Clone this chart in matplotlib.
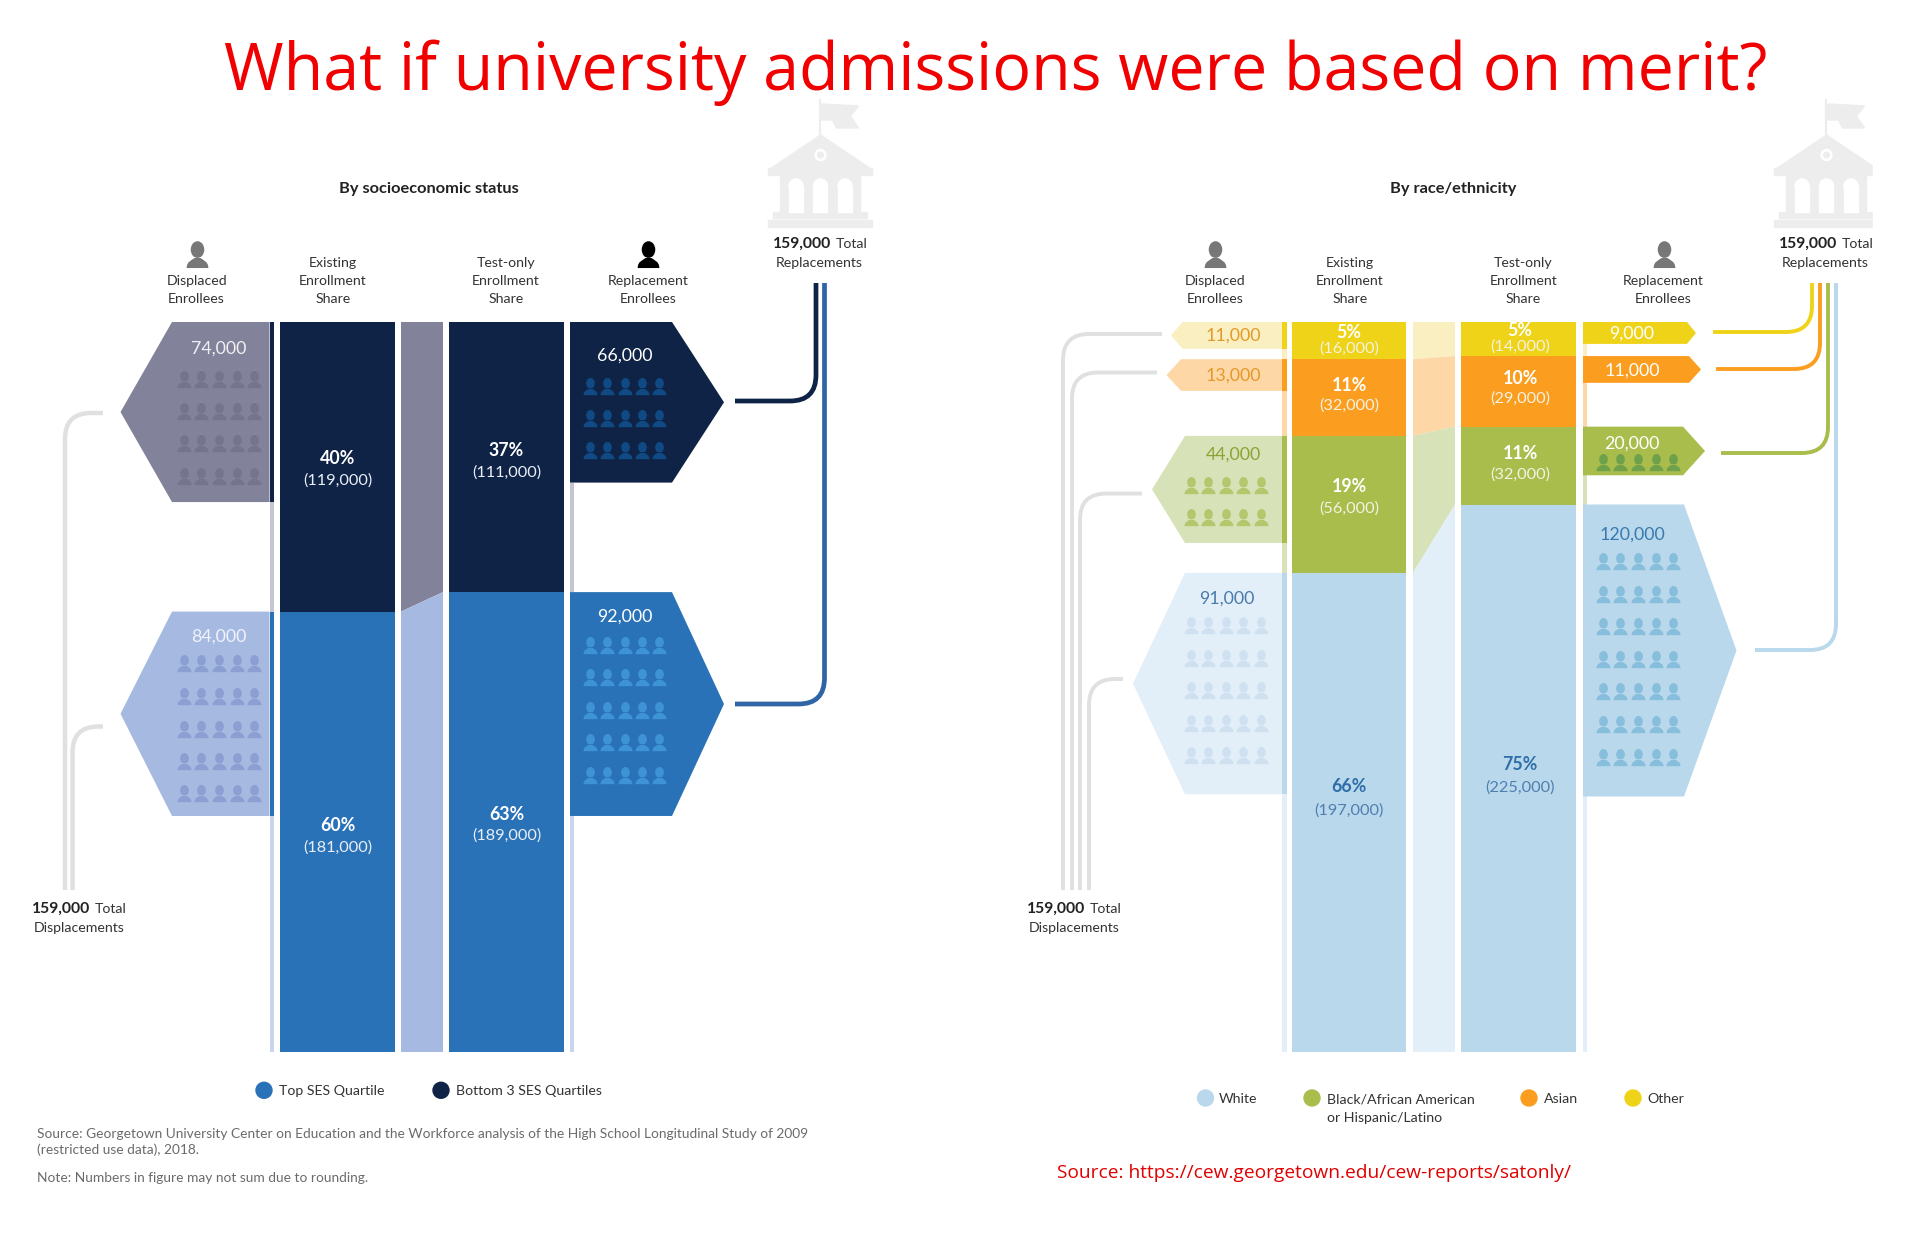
import numpy as np
import matplotlib
matplotlib.use("Agg")
import matplotlib.pyplot as plt
from matplotlib.path import Path
from matplotlib.patches import PathPatch, Circle, Rectangle
from matplotlib.transforms import Affine2D

# enrollees, in thousands, top segment first
ses_existing = [119, 181]
ses_test = [111, 189]
ses_displaced = [74, 84]
ses_replacement = [66, 92]
ses_pct_existing = ["40%", "60%"]
ses_pct_test = ["37%", "63%"]

# heights as measured on the picture, the printed labels are rounded
race_existing = [15.3, 31.5, 56.3, 196.9]
race_existing_lab = [16, 32, 56, 197]
race_test = [14, 29, 32, 225]
race_displaced = [11, 13, 44, 91]
race_replacement = [9, 11, 20, 120]
race_pct_existing = ["5%", "11%", "19%", "66%"]
race_pct_test = ["5%", "10%", "11%", "75%"]

NAVY, BLUE, GRAYV, LBLUE = "#0f2346", "#2a72b8", "#82829a", "#a6b9e0"
YEL, ORA, GRN, SKY = "#efd318", "#fb9e1f", "#a8bd4c", "#b9d8ec"
LYEL, LORA, LGRN, LSKY = "#f9efc0", "#fdd7a5", "#d8e2b8", "#e3eff8"
LINE = "#e0e0e0"
W, H = 1912, 1236

plt.rcParams["font.family"] = ["Lato", "DejaVu Sans"]
fig = plt.figure(figsize=(W / 100, H / 100), dpi=100)

# page axes in pixels for the layout, on top of the value axes
ax = fig.add_axes([0, 0, 1, 1])
ax.set_xlim(0, W)
ax.set_ylim(H, 0)
ax.axis("off")
ax.set_zorder(2)

# value axes: same x, y in thousands of enrollees (300k = full column)
vy = fig.add_axes([0, 1 - 1052 / H, 1, 730 / H], sharex=ax)
vy.set_ylim(300, 0)
vy.axis("off")
vy.set_zorder(1)


def txt(x, y, s, size=10.2, color="#333333", weight="normal", ha="center", **kw):
    ax.text(x, y + 1, s, fontsize=size, color=color, fontweight=weight, ha=ha, va="center", zorder=10, **kw)


def person_path():
    head = Path.unit_circle().transformed(Affine2D().scale(0.5, 0.62).translate(0, 0.36))
    v = [(-0.8, -1), (-0.8, -0.5), (-0.42, -0.42), (-0.2, -0.25),
         (0.2, -0.25), (0.42, -0.42), (0.8, -0.5), (0.8, -1), (-0.8, -1)]
    c = [Path.MOVETO, Path.CURVE4, Path.CURVE4, Path.CURVE4, Path.LINETO,
         Path.CURVE4, Path.CURVE4, Path.CURVE4, Path.CLOSEPOLY]
    return Path.make_compound_path(head, Path(v, c))


PERSON = person_path()


def people(xs, ys, color, ms=12.5):
    gx, gy = np.meshgrid(xs, ys)
    ax.plot(gx.ravel(), gy.ravel(), ls="none", marker=PERSON, ms=ms, mfc=color, mec="none", zorder=6)


def elbow(xv, y0, yh, xe, color, lw=3.4, r=26):
    # vertical run from y0 to yh, rounded corner, then horizontal run to xe
    sx = 1 if xe > xv else -1
    sy = 1 if yh > y0 else -1
    v = [(xv, y0), (xv, yh - sy * r), (xv, yh), (xv + sx * r, yh), (xe, yh)]
    c = [Path.MOVETO, Path.LINETO, Path.CURVE3, Path.CURVE3, Path.LINETO]
    ax.add_patch(PathPatch(Path(v, c), fc="none", ec=color, lw=lw, capstyle="butt", zorder=3))


def school(cx):
    g = "#ededed"
    ax.plot([cx, cx], [100, 136], color=g, lw=1.6, zorder=2)
    ax.fill([cx + 1, cx + 38, cx + 30, cx + 38, cx + 16, cx + 12, cx + 1],
            [104, 106, 116, 128, 128, 120, 120], color=g, zorder=2)
    ax.fill([cx - 52, cx, cx + 52], [170, 135, 170], color=g, zorder=2)
    ax.add_patch(Rectangle((cx - 52, 168), 104, 7, color=g, zorder=2))
    ax.add_patch(Rectangle((cx - 40, 174), 80, 40, color=g, zorder=2))
    ax.add_patch(Rectangle((cx - 47, 212), 94, 6, color=g, zorder=2))
    ax.add_patch(Rectangle((cx - 52, 220), 104, 7, color=g, zorder=2))
    for d in (-24.5, 0, 24.5):
        ax.add_patch(Rectangle((d + cx - 7, 186), 14, 26, color="white", zorder=3))
        ax.add_patch(Circle((d + cx, 186), 7, color="white", zorder=3))
    ax.add_patch(Circle((cx, 155), 5.5, color="white", zorder=3))
    ax.add_patch(Circle((cx, 155), 2.8, color=g, zorder=3))


def hexagon(x_flat, x_shoulder, x_tip, start, size, color):
    y_tip = start + size / 2
    vy.fill([x_flat, x_shoulder, x_tip, x_shoulder, x_flat],
            [start, start, y_tip, start + size, start + size], color=color, lw=0, zorder=2)


def column(x0, x1, vals, colors):
    tops = np.concatenate(([0], np.cumsum(vals)[:-1]))
    vy.bar((x0 + x1) / 2, vals, width=x1 - x0, bottom=tops, color=colors, lw=0, zorder=2)
    return tops


def flow(x0, x1, left, right, colors):
    lc = np.concatenate(([0], np.cumsum(left)))
    rc = np.concatenate(([0], np.cumsum(right)))
    lc[-1] = rc[-1] = 300
    for i, col in enumerate(colors):
        vy.fill([x0, x1, x1, x0], [lc[i], rc[i], rc[i + 1], lc[i + 1]], color=col, lw=0, zorder=2)


# ---- left panel: socioeconomic status
cols = [NAVY, BLUE]
tops_e = column(280, 395, ses_existing, cols)
tops_t = column(449, 564, ses_test, cols)
flow(401, 443, ses_existing, ses_test, [GRAYV, LBLUE])

# thin strips next to the columns
vy.bar(271.8, [ses_displaced[0], ses_existing[0] - ses_displaced[0], ses_displaced[1], 300 - tops_e[1] - ses_displaced[1]],
       width=4.5, bottom=[0, ses_displaced[0], tops_e[1], tops_e[1] + ses_displaced[1]],
       color=[NAVY, "#c5c5d1", BLUE, "#c9d5ec"], lw=0, zorder=3)
vy.bar(572, [ses_test[0] - ses_replacement[0], 300 - tops_t[1] - ses_replacement[1]], width=4.5,
       bottom=[ses_replacement[0], tops_t[1] + ses_replacement[1]],
       color=["#c5c5d1", "#c9d5ec"], lw=0, zorder=2)

hexagon(269.5, 172, 120.5, tops_e[0], ses_displaced[0], GRAYV)
hexagon(269.5, 172, 120.5, tops_e[1], ses_displaced[1], LBLUE)
hexagon(570, 672, 724, tops_t[0], ses_replacement[0], NAVY)
hexagon(570, 672, 724, tops_t[1], ses_replacement[1], BLUE)

xs_d = [184, 201.5, 219, 237, 254]
xs_r = [590, 607, 624.6, 642, 659]
people(xs_d, [378.6, 410.7, 443, 475.7], "#74748d")
people(xs_d, [663, 696, 728.5, 761, 793], "#8b9fd2")
people(xs_r, [385.7, 418, 450], "#0f4a85")
people(xs_r, [644.7, 677, 710, 742, 775], "#3e93d7")

for xt, v, y, c in [(218.6, ses_displaced[0], 347.5, "#f0f0f4"), (218.6, ses_displaced[1], 635.6, "#f0f3fa"),
                    (624.6, ses_replacement[0], 354.6, "white"), (624.6, ses_replacement[1], 616, "white")]:
    txt(xt, y, f"{v},000", size=12.8, color=c)

for x_c, vals, pcts, ys in [(337.4, ses_existing, ses_pct_existing, [(457.5, 479.3), (824.6, 846.3)]),
                            (506.4, ses_test, ses_pct_test, [(449.6, 471.4), (813, 835)])]:
    for v, p, (y1, y2) in zip(vals, pcts, ys):
        txt(x_c, y1, p, size=12.8, color="white", weight="bold")
        txt(x_c, y2, f"({v},000)", size=11.8, color="#e8eef6")

elbow(65, 890, 413, 103, LINE, lw=3.2)
elbow(72.5, 890, 726.5, 103, LINE, lw=3.2)
elbow(816, 283, 401, 735, NAVY)
elbow(824.5, 283, 704, 735, "#2f65a6")

school(820.5)
txt(429, 188, "By socioeconomic status", size=11.8, color="#222222", weight="bold")
people([196.6], [254], "#777777", ms=19.5)
people([648], [254], "#000000", ms=19.5)
for x_c, lines in [(196.6, ["Displaced", "Enrollees"]), (648, ["Replacement", "Enrollees"]),
                   (1215, ["Displaced", "Enrollees"]), (1663.6, ["Replacement", "Enrollees"])]:
    txt(x_c, 280, lines[0])
    txt(x_c, 298, lines[1])
for x_c in (333, 1350):
    for y, s in zip((262, 280, 298), ("Existing", "Enrollment", "Share")):
        txt(x_c, y, s)
for x_c in (506, 1523.5):
    for y, s in zip((262, 280, 298), ("Test-only", "Enrollment", "Share")):
        txt(x_c, y, s)


def total(x_split, y, word, x_c=None):
    txt(x_split, y, "159,000", weight="bold", ha="right", color="#222222", size=11.3)
    txt(x_split + 5, y, "Total", ha="left")
    txt(x_c, y + 19, word)


total(831, 243, "Replacements", 819)
total(90, 908, "Displacements", 79)
total(1837, 243, "Replacements", 1825.5)
total(1085, 908, "Displacements", 1074)

ax.add_patch(Circle((264, 1090.3), 8, color=BLUE, zorder=5))
ax.add_patch(Circle((441, 1090.3), 8, color=NAVY, zorder=5))
txt(279, 1090.3, "Top SES Quartile", ha="left")
txt(455.6, 1090.3, "Bottom 3 SES Quartiles", ha="left")

txt(37.4, 1132.6, "Source: Georgetown University Center on Education and the Workforce analysis of the High School Longitudinal Study of 2009",
    ha="left", color="#6b6b6b", size=9.9)
txt(37.4, 1149, "(restricted use data), 2018.", ha="left", color="#6b6b6b", size=9.9)
txt(37.4, 1177, "Note: Numbers in figure may not sum due to rounding.", ha="left", color="#6b6b6b", size=9.9)

# ---- right panel: race/ethnicity
cols = [YEL, ORA, GRN, SKY]
light = [LYEL, LORA, LGRN, LSKY]
tops_e = column(1292, 1406, race_existing, cols)
tops_t = column(1461, 1576, race_test, cols)
flow(1413, 1455, race_existing, race_test, light)

for i in range(4):
    end_e = tops_e[i] + race_existing[i]
    end_t = tops_t[i] + race_test[i]
    vy.bar(1284.5, end_e - tops_e[i], width=4.2, bottom=tops_e[i], color=light[i], lw=0, zorder=2)
    vy.bar(1585, end_t - tops_t[i], width=4.2, bottom=tops_t[i], color=light[i], lw=0, zorder=2)

for i, (sh, tip) in enumerate([(1182.5, 1171), (1181, 1166.5), (1185, 1152), (1185, 1133)]):
    hexagon(1282.4, sh, tip, tops_e[i], race_displaced[i], light[i])
    vy.bar(1284.5, race_displaced[i], width=4.2, bottom=tops_e[i], color=cols[i], lw=0, zorder=3)
for i, (sh, tip) in enumerate([(1687, 1696), (1689, 1701), (1683, 1705), (1684, 1736.5)]):
    hexagon(1583, sh, tip, tops_t[i], race_replacement[i], cols[i])

xs_d = [1190.6, 1208.4, 1225.6, 1243.4, 1261]
xs_r = [1603, 1620.5, 1638, 1655.6, 1673]
people(xs_d, [485, 517], "#b3c76c")
people(xs_d, [625, 658, 690, 723, 755], "#cfe1f0")
people(xs_r, [462], "#6fa14a")
people(xs_r, [561, 593.6, 626.4, 658.5, 691, 724, 756.6], "#86bedb")

for v, x_c, y, c in zip(race_displaced, [1233.6, 1233.6, 1233.6, 1226.8], [334.6, 374.6, 454, 597.5],
                        ["#e39a2a", "#e39a2a", "#8ba334", "#4a7aac"]):
    txt(x_c, y, f"{v},000", size=12.8, color=c)
for v, y, c in zip(race_replacement, [333, 370, 443, 534], ["white", "white", "white", "#3a79b0"]):
    txt(1632, y, f"{v},000", size=12.8, color=c)

for x_c, vals, pcts, ys in [(1349, race_existing_lab, race_pct_existing,
                             [(331.8, 347.9), (384.3, 404.6), (486, 507.9), (786, 810)]),
                            (1520, race_test, race_pct_test,
                             [(329, 345.4), (377, 398), (452.5, 474), (763, 786.6)])]:
    for i, (v, p, (y1, y2)) in enumerate(zip(vals, pcts, ys)):
        c1 = "white" if i < 3 else "#2f6ea8"
        c2 = "#f4f2e2" if i < 3 else "#4f7fb0"
        txt(x_c, y1, p, size=12.8, color=c1, weight="bold")
        txt(x_c, y2, f"({v},000)", size=11.8, color=c2)

for xv, yh, xe in [(1063, 334, 1162), (1072, 372.5, 1157), (1080, 493.6, 1142), (1089, 679, 1123)]:
    elbow(xv, 890, yh, xe, LINE, lw=2.8)
for xv, yh, xe, c in [(1812, 332, 1713, YEL), (1820, 369, 1716, ORA),
                      (1828, 453, 1721, GRN), (1836, 650, 1755, SKY)]:
    elbow(xv, 283, yh, xe, c, lw=2.8)

school(1826.5)
ax.add_patch(Rectangle((1873, 90), 39, 145, color="white", zorder=4))
txt(1453, 188, "By race/ethnicity", size=11.8, color="#222222", weight="bold")
people([1215, 1663.6], [254], "#777777", ms=19.5)

for cx, c in [(1205.5, SKY), (1312, GRN), (1529, ORA), (1633, YEL)]:
    ax.add_patch(Circle((cx, 1098), 8, color=c, zorder=5))
txt(1218.7, 1098, "White", ha="left")
txt(1327, 1098, "Black/African American", ha="left")
txt(1327, 1117, "or Hispanic/Latino", ha="left")
txt(1544, 1098, "Asian", ha="left")
txt(1647.5, 1098, "Other", ha="left")

# red overlay text
txt(996, 72, "What if university admissions were based on merit?", size=46.5, color="#f00000", family="Open Sans")
txt(1057, 1172, "Source: https://cew.georgetown.edu/cew-reports/satonly/", size=13.8, color="#e00000", ha="left", family="Open Sans")

fig.savefig("out.png", dpi=100)
